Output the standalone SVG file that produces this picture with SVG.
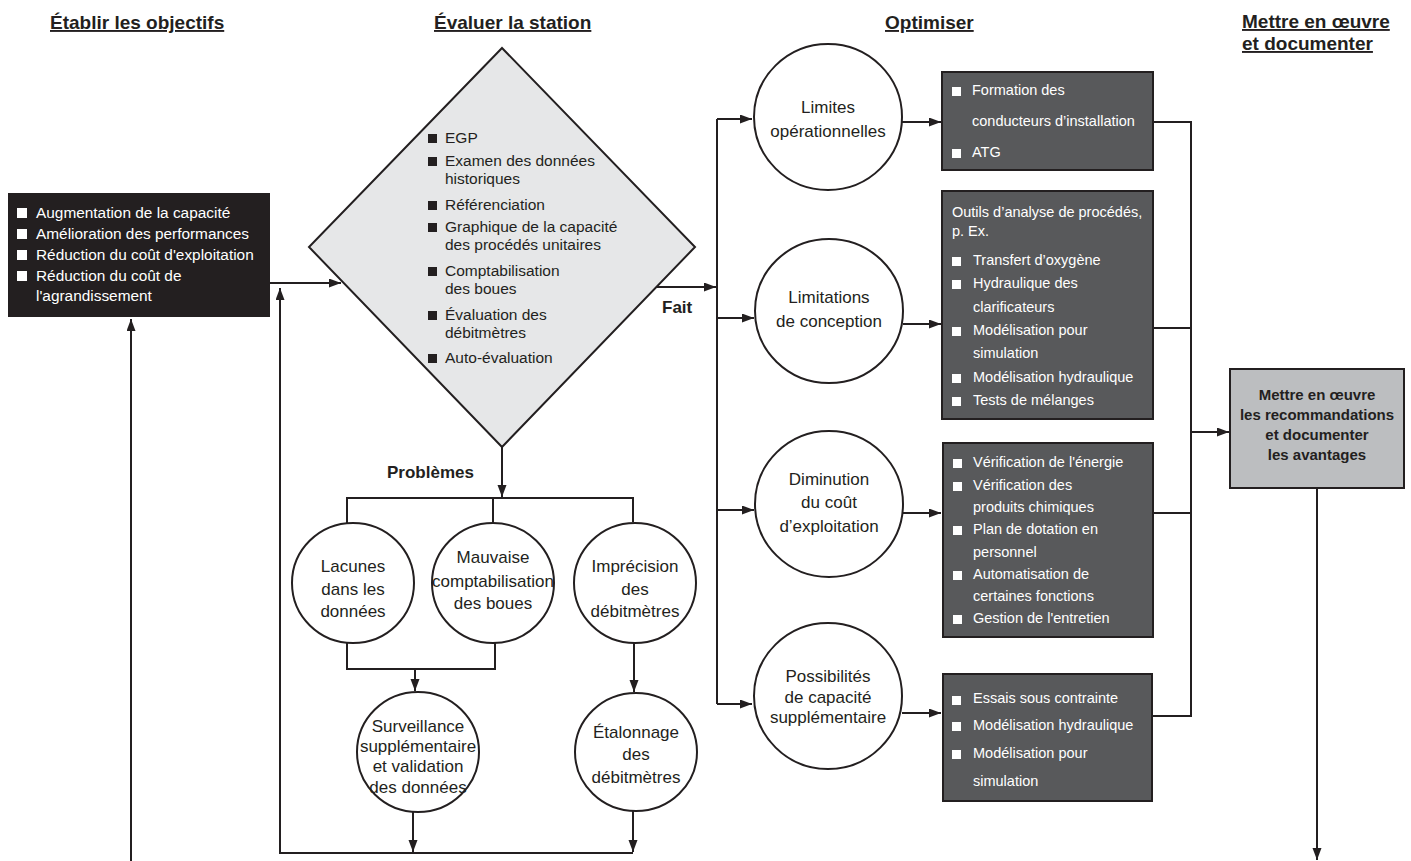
<svg xmlns="http://www.w3.org/2000/svg" width="1411" height="861" viewBox="0 0 1411 861">
<defs>
<marker id="ah" markerWidth="13" markerHeight="10" refX="12" refY="4.5" orient="auto" markerUnits="userSpaceOnUse">
<path d="M0,0 L12,4.5 L0,9 z" fill="#231f20"/>
</marker>
<style>
text{font-family:"Liberation Sans",Arial,sans-serif;fill:#231f20}
.hd{font-size:19px;font-weight:bold;text-decoration:underline}
.ln{stroke:#231f20;stroke-width:2;fill:none}
.ar{marker-end:url(#ah)}
.circ{fill:#fff;stroke:#231f20;stroke-width:2}
.dbox{fill:#58595b;stroke:#231f20;stroke-width:2}
.wt{fill:#fff;font-size:14.5px}
.wb{fill:#fff}
.bt{font-size:15.4px;fill:#fff}
.dt{font-size:15.5px}
.ct{font-size:17px;text-anchor:middle}
.lb{font-size:17px;font-weight:bold}
</style>
</defs>
<rect width="1411" height="861" fill="#fff"/>

<g id="headers">
<text class="hd" x="50" y="29">Établir les objectifs</text>
<text class="hd" x="434" y="29">Évaluer la station</text>
<text class="hd" x="885" y="29">Optimiser</text>
<text class="hd" x="1242" y="28">Mettre en œuvre</text>
<text class="hd" x="1242" y="50">et documenter</text>
</g>

<g id="connectors">
<path class="ln ar" d="M270,283 H341"/>
<path class="ln ar" d="M131,861 V319"/>
<path class="ln ar" d="M633,853 H280 V288"/>
<path class="ln ar" d="M657,287 H716"/>
<path class="ln" d="M717,119 V704"/>
<path class="ln ar" d="M717,119 H752"/>
<path class="ln ar" d="M717,318 H754"/>
<path class="ln ar" d="M717,510 H754"/>
<path class="ln ar" d="M717,704 H752"/>
<path class="ln ar" d="M902,122 H941"/>
<path class="ln ar" d="M903,324 H941"/>
<path class="ln ar" d="M903,513 H941"/>
<path class="ln ar" d="M902,713 H941"/>
<path class="ln" d="M1153,122 H1191 V716 H1153 M1153,328 H1191 M1153,513 H1191"/>
<path class="ln ar" d="M1191,432 H1229"/>
<path class="ln ar" d="M1317,488 V860"/>
<path class="ln ar" d="M502,447 V497"/>
<path class="ln" d="M347,523 V498 H633 V522 M493,498 V523"/>
<path class="ln" d="M347,643 V669 H495 V643"/>
<path class="ln ar" d="M415,669 V691"/>
<path class="ln ar" d="M634,643 V692"/>
<path class="ln ar" d="M413,812 V852"/>
<path class="ln ar" d="M633,810 V852"/>
</g>

<g id="labels">
<text class="lb" x="662" y="313">Fait</text>
<text class="lb" x="387" y="478">Problèmes</text>
</g>

<g id="objectifs">
<rect x="8" y="193" width="262" height="124" fill="#231f20"/>
<rect class="wb" x="17" y="208" width="10" height="10"/>
<rect class="wb" x="17" y="229" width="10" height="10"/>
<rect class="wb" x="17" y="250" width="10" height="10"/>
<rect class="wb" x="17" y="271" width="10" height="10"/>
<text class="bt" x="36" y="218">Augmentation de la capacité</text>
<text class="bt" x="36" y="239">Amélioration des performances</text>
<text class="bt" x="36" y="260">Réduction du coût d'exploitation</text>
<text class="bt" x="36" y="281">Réduction du coût de</text>
<text class="bt" x="36" y="301">l'agrandissement</text>
</g>

<g id="evaluer">
<polygon points="502,48 695,247 502,447 309,247" fill="#e6e7e8" stroke="#231f20" stroke-width="2"/>
<g fill="#231f20">
<rect x="428" y="134" width="9" height="9"/>
<rect x="428" y="157" width="9" height="9"/>
<rect x="428" y="201" width="9" height="9"/>
<rect x="428" y="223" width="9" height="9"/>
<rect x="428" y="267" width="9" height="9"/>
<rect x="428" y="311" width="9" height="9"/>
<rect x="428" y="354" width="9" height="9"/>
</g>
<text class="dt" x="445" y="143">EGP</text>
<text class="dt" x="445" y="166">Examen des données</text>
<text class="dt" x="445" y="184">historiques</text>
<text class="dt" x="445" y="210">Référenciation</text>
<text class="dt" x="445" y="232">Graphique de la capacité</text>
<text class="dt" x="445" y="250">des procédés unitaires</text>
<text class="dt" x="445" y="276">Comptabilisation</text>
<text class="dt" x="445" y="294">des boues</text>
<text class="dt" x="445" y="320">Évaluation des</text>
<text class="dt" x="445" y="338">débitmètres</text>
<text class="dt" x="445" y="363">Auto-évaluation</text>
</g>

<g id="lacunes">
<ellipse class="circ" cx="353" cy="583" rx="61" ry="60"/>
<text class="ct" x="353" y="572">Lacunes</text>
<text class="ct" x="353" y="595">dans les</text>
<text class="ct" x="353" y="617">données</text>
</g>
<g id="mauvaise">
<ellipse class="circ" cx="493" cy="583" rx="61" ry="60"/>
<text class="ct" x="493" y="563" font-size="15">Mauvaise</text>
<text class="ct" x="493" y="587" font-size="15">comptabilisation</text>
<text class="ct" x="493" y="609" font-size="15">des boues</text>
</g>
<g id="imprecision">
<ellipse class="circ" cx="635" cy="583" rx="61" ry="60"/>
<text class="ct" x="635" y="572">Imprécision</text>
<text class="ct" x="635" y="595">des</text>
<text class="ct" x="635" y="617">débitmètres</text>
</g>
<g id="surveillance">
<ellipse class="circ" cx="418" cy="752" rx="61" ry="60"/>
<text class="ct" x="418" y="732" font-size="14.3">Surveillance</text>
<text class="ct" x="418" y="752" font-size="14.3">supplémentaire</text>
<text class="ct" x="418" y="772" font-size="14.3">et validation</text>
<text class="ct" x="418" y="793" font-size="14.3">des données</text>
</g>
<g id="etalonnage">
<ellipse class="circ" cx="636" cy="752" rx="61" ry="59"/>
<text class="ct" x="636" y="738">Étalonnage</text>
<text class="ct" x="636" y="760">des</text>
<text class="ct" x="636" y="783">débitmètres</text>
</g>

<g id="limites">
<ellipse class="circ" cx="828" cy="117" rx="74" ry="73"/>
<text class="ct" x="828" y="113">Limites</text>
<text class="ct" x="828" y="137">opérationnelles</text>
</g>
<g id="limitations">
<ellipse class="circ" cx="829" cy="311" rx="74" ry="72"/>
<text class="ct" x="829" y="303">Limitations</text>
<text class="ct" x="829" y="327">de conception</text>
</g>
<g id="diminution">
<ellipse class="circ" cx="829" cy="504" rx="74" ry="73"/>
<text class="ct" x="829" y="485">Diminution</text>
<text class="ct" x="829" y="508">du coût</text>
<text class="ct" x="829" y="532">d’exploitation</text>
</g>
<g id="possibilites">
<ellipse class="circ" cx="828" cy="696" rx="74" ry="73"/>
<text class="ct" x="828" y="682">Possibilités</text>
<text class="ct" x="828" y="703">de capacité</text>
<text class="ct" x="828" y="723">supplémentaire</text>
</g>

<g id="box-limites">
<rect class="dbox" x="942" y="72" width="211" height="98"/>
<rect class="wb" x="952" y="87" width="9" height="9"/>
<rect class="wb" x="952" y="149" width="9" height="9"/>
<text class="wt" x="972" y="95">Formation des</text>
<text class="wt" x="972" y="126">conducteurs d’installation</text>
<text class="wt" x="972" y="157">ATG</text>
</g>
<g id="box-conception">
<rect class="dbox" x="942" y="191" width="211" height="228"/>
<text class="wt" x="952" y="217">Outils d’analyse de procédés,</text>
<text class="wt" x="952" y="236">p. Ex.</text>
<rect class="wb" x="952" y="257" width="9" height="9"/>
<rect class="wb" x="952" y="280" width="9" height="9"/>
<rect class="wb" x="952" y="327" width="9" height="9"/>
<rect class="wb" x="952" y="374" width="9" height="9"/>
<rect class="wb" x="952" y="397" width="9" height="9"/>
<text class="wt" x="973" y="265">Transfert d’oxygène</text>
<text class="wt" x="973" y="288">Hydraulique des</text>
<text class="wt" x="973" y="312">clarificateurs</text>
<text class="wt" x="973" y="335">Modélisation pour</text>
<text class="wt" x="973" y="358">simulation</text>
<text class="wt" x="973" y="382">Modélisation hydraulique</text>
<text class="wt" x="973" y="405">Tests de mélanges</text>
</g>
<g id="box-exploitation">
<rect class="dbox" x="943" y="443" width="210" height="194"/>
<rect class="wb" x="953" y="459" width="9" height="9"/>
<rect class="wb" x="953" y="482" width="9" height="9"/>
<rect class="wb" x="953" y="526" width="9" height="9"/>
<rect class="wb" x="953" y="571" width="9" height="9"/>
<rect class="wb" x="953" y="615" width="9" height="9"/>
<text class="wt" x="973" y="467">Vérification de l'énergie</text>
<text class="wt" x="973" y="490">Vérification des</text>
<text class="wt" x="973" y="512">produits chimiques</text>
<text class="wt" x="973" y="534">Plan de dotation en</text>
<text class="wt" x="973" y="557">personnel</text>
<text class="wt" x="973" y="579">Automatisation de</text>
<text class="wt" x="973" y="601">certaines fonctions</text>
<text class="wt" x="973" y="623">Gestion de l'entretien</text>
</g>
<g id="box-capacite">
<rect class="dbox" x="943" y="674" width="209" height="127"/>
<rect class="wb" x="952" y="696" width="9" height="9"/>
<rect class="wb" x="952" y="722" width="9" height="9"/>
<rect class="wb" x="952" y="750" width="9" height="9"/>
<text class="wt" x="973" y="703">Essais sous contrainte</text>
<text class="wt" x="973" y="730">Modélisation hydraulique</text>
<text class="wt" x="973" y="758">Modélisation pour</text>
<text class="wt" x="973" y="786">simulation</text>
</g>

<g id="mettre-en-oeuvre">
<rect x="1230" y="369" width="174" height="119" fill="#bcbec0" stroke="#231f20" stroke-width="2"/>
<text x="1317" y="400" font-size="15" font-weight="bold" text-anchor="middle">Mettre en œuvre</text>
<text x="1317" y="420" font-size="15" font-weight="bold" text-anchor="middle">les recommandations</text>
<text x="1317" y="440" font-size="15" font-weight="bold" text-anchor="middle">et documenter</text>
<text x="1317" y="460" font-size="15" font-weight="bold" text-anchor="middle">les avantages</text>
</g>
</svg>
